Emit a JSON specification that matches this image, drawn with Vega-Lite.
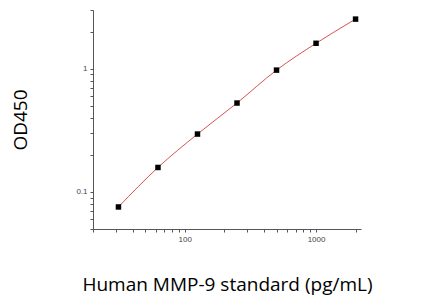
{
  "$schema": "https://vega.github.io/schema/vega-lite/v6.json",
  "width": 268,
  "height": 219,
  "autosize": "none",
  "padding": {"left": 93, "top": 10, "right": 83, "bottom": 68},
  "background": "white",
  "config": {"view": {"stroke": null}},
  "data": {"values": [
    {"conc": 31.25, "od": 0.0755},
    {"conc": 62.5, "od": 0.158},
    {"conc": 125, "od": 0.295},
    {"conc": 250, "od": 0.527},
    {"conc": 500, "od": 0.975},
    {"conc": 1000, "od": 1.61},
    {"conc": 2000, "od": 2.53}
  ]},
  "encoding": {
    "x": {
      "field": "conc", "type": "quantitative",
      "scale": {"type": "log", "domain": [20, 2200], "nice": false},
      "axis": {
        "title": "Human MMP-9 standard (pg/mL)",
        "titleFont": "Open Sans", "titleFontSize": 19, "titleFontWeight": "normal", "titleColor": "#000",
        "titlePadding": 32,
        "values": [20,30,40,50,60,70,80,90,100,200,300,400,500,600,700,800,900,1000,2000],
        "labelExpr": "datum.value == 100 ? '100' : datum.value == 1000 ? '1000' : ''",
        "labelFont": "Liberation Sans", "labelFontSize": 8, "labelColor": "#444",
        "tickSize": 3, "tickColor": "#555", "domainColor": "#555", "grid": false,
        "labelPadding": 3, "labelFlush": false, "labelOverlap": false
      }
    },
    "y": {
      "field": "od", "type": "quantitative",
      "scale": {"type": "log", "domain": [0.05, 3], "nice": false},
      "axis": {
        "title": "OD450",
        "titleFont": "Open Sans", "titleFontSize": 19, "titleFontWeight": "normal", "titleColor": "#000",
        "titlePadding": 45,
        "values": [0.05,0.06,0.07,0.08,0.09,0.1,0.2,0.3,0.4,0.5,0.6,0.7,0.8,0.9,1,2,3],
        "labelExpr": "datum.value == 1 ? '1' : datum.value == 0.1 ? '0.1' : ''",
        "labelFont": "Liberation Sans", "labelFontSize": 8, "labelColor": "#444",
        "tickSize": 3, "tickColor": "#555", "domainColor": "#555", "grid": false,
        "labelPadding": 3, "labelOverlap": false, "labelFlush": false
      }
    }
  },
  "layer": [
    {"mark": {"type": "line", "color": "#d9534f", "strokeWidth": 1, "interpolate": "monotone"}},
    {"mark": {"type": "square", "color": "#000", "opacity": 1, "size": 30, "filled": true}}
  ]
}
